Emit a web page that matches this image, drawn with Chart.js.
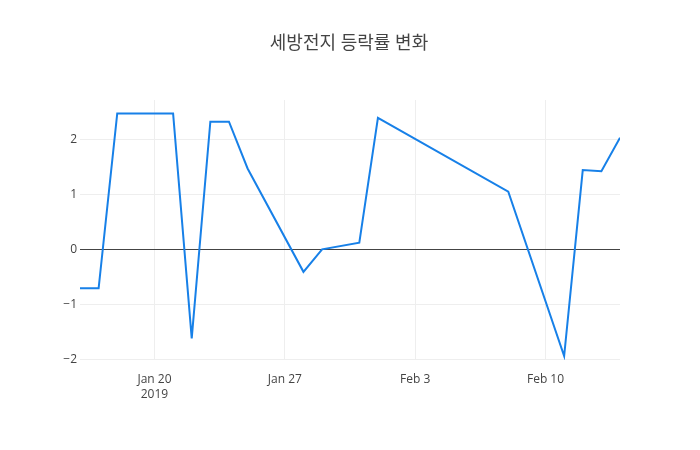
<!DOCTYPE html>
<html>
<head>
<meta charset="utf-8">
<script src="https://cdn.jsdelivr.net/npm/chart.js@4/dist/chart.umd.min.js"></script>
<style>
  body { margin: 0; background: #fff; }
  #wrap { width: 700px; height: 450px; }
</style>
</head>
<body>
<div id="wrap"><canvas id="chart" width="700" height="450"></canvas></div>
<script>
// trading days and daily change (%)
var dates = [
  "2019-01-16", "2019-01-17", "2019-01-18", "2019-01-21", "2019-01-22",
  "2019-01-23", "2019-01-24", "2019-01-25", "2019-01-28", "2019-01-29",
  "2019-01-31", "2019-02-01", "2019-02-08", "2019-02-11", "2019-02-12",
  "2019-02-13", "2019-02-14"
];
var rates = [
  -0.71, -0.71, 2.47, 2.47, -1.62,
  2.32, 2.32, 1.47, -0.41, 0.0,
  0.12, 2.39, 1.05, -1.94, 1.44,
  1.42, 2.03
];
var xTickDates = ["2019-01-20", "2019-01-27", "2019-02-03", "2019-02-10"];
var yTicks = [-2, -1, 0, 1, 2];
var title = "세방전지 등락률 변화";

var DAY = 86400000;
var MONTHS = ["Jan", "Feb", "Mar", "Apr", "May", "Jun", "Jul", "Aug", "Sep", "Oct", "Nov", "Dec"];

function toDay(s) {
  var p = s.split("-");
  return Date.UTC(+p[0], +p[1] - 1, +p[2]) / DAY;
}

var points = dates.map(function (d, i) {
  return { x: toDay(d), y: rates[i] };
});
var xTicks = xTickDates.map(toDay);

var titlePlugin = {
  id: "plotTitle",
  afterDraw: function (chart) {
    var ctx = chart.ctx;
    ctx.save();
    ctx.font = "18px 'Open Sans', 'Noto Sans CJK KR', sans-serif";
    ctx.fillStyle = "#444";
    ctx.textAlign = "center";
    ctx.textBaseline = "middle";
    ctx.fillText(title, 349, 44);
    ctx.restore();
  }
};

var font = { family: "'Open Sans', sans-serif", size: 12, lineHeight: 1.25 };

new Chart(document.getElementById("chart"), {
  type: "line",
  data: {
    datasets: [{
      data: points,
      borderColor: "#1780e8",
      borderWidth: 2,
      pointRadius: 0,
      tension: 0,
      fill: false
    }]
  },
  options: {
    responsive: false,
    animation: false,
    layout: { padding: { top: 100, right: 80, left: 0, bottom: 0 } },
    plugins: { legend: { display: false }, tooltip: { enabled: false } },
    scales: {
      x: {
        type: "linear",
        min: toDay("2019-01-16"),
        max: toDay("2019-02-14"),
        afterBuildTicks: function (scale) {
          scale.ticks = xTicks.map(function (v) { return { value: v }; });
        },
        afterFit: function (scale) { scale.height = 90; },
        ticks: {
          color: "#444",
          font: font,
          padding: 12,
          maxRotation: 0,
          callback: function (v, i) {
            var d = new Date(v * DAY);
            var lbl = MONTHS[d.getUTCMonth()] + " " + d.getUTCDate();
            return i === 0 ? [lbl, String(d.getUTCFullYear())] : lbl;
          }
        },
        grid: { color: "#eee", drawTicks: false },
        border: { display: false }
      },
      y: {
        min: -2.013,
        max: 2.715,
        afterBuildTicks: function (scale) {
          scale.ticks = yTicks.map(function (v) { return { value: v }; });
        },
        afterFit: function (scale) { scale.width = 80; },
        ticks: {
          color: "#444",
          font: font,
          padding: 3,
          callback: function (v) { return String(v).replace("-", "\u2212"); }
        },
        grid: {
          drawTicks: false,
          color: function (c) { return c.tick && c.tick.value === 0 ? "#444" : "#eee"; }
        },
        border: { display: false }
      }
    }
  },
  plugins: [titlePlugin]
});
</script>
</body>
</html>
